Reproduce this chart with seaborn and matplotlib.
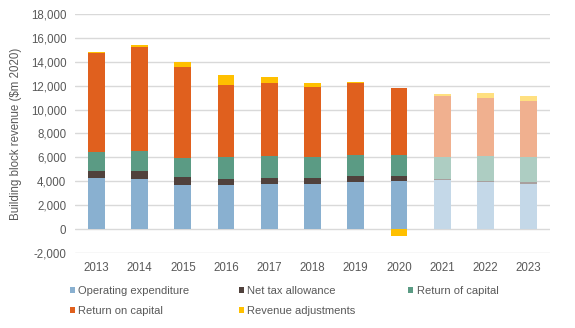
import numpy as np
import pandas as pd
import matplotlib
matplotlib.use("Agg")
import matplotlib.pyplot as plt
from matplotlib.patches import Patch
from matplotlib.ticker import FuncFormatter
import seaborn as sns

# Building block revenue by component, $m 2020
years = ["2013", "2014", "2015", "2016", "2017", "2018",
         "2019", "2020", "2021", "2022", "2023"]
forecast_years = ["2021", "2022", "2023"]

opex = [4257, 4173, 3723, 3723, 3806, 3806, 3948, 4006, 4090, 3948, 3806]
net_tax = [634, 718, 643, 501, 501, 501, 501, 443, 109, 109, 142]
return_of_capital = [1587, 1670, 1586, 1811, 1783, 1728, 1728, 1728, 1836, 2061, 2087]
return_on_capital = [8262, 8656, 7596, 6010, 6097, 5843, 6010, 5645, 5091, 4869, 4674]
revenue_adj = [60, 143, 392, 860, 501, 359, 109, -530, 139, 362, 389]

series_names = ["Operating expenditure", "Net tax allowance", "Return of capital",
                "Return on capital", "Revenue adjustments"]
series_values = [opex, net_tax, return_of_capital, return_on_capital, revenue_adj]
series_colors = ["#89B0D0", "#50413C", "#5B9B84", "#E0601E", "#FFC000"]


def lighten(hex_color, amount=0.5):
    rgb = np.array(matplotlib.colors.to_rgb(hex_color))
    return tuple(rgb + (1 - rgb) * amount)


sns.set_theme(style="white")
plt.rcParams["font.family"] = ["Liberation Sans", "DejaVu Sans"]
text_color = "#595959"

fig = plt.figure(figsize=(5.75, 3.28), dpi=100)
ax = fig.add_axes([0.130, 0.228, 0.827, 0.730])

# Build a long table with a stacking base for every segment
rows = []
pos_base = np.zeros(len(years))
for name, vals, color in zip(series_names, series_values, series_colors):
    vals = np.asarray(vals, dtype=float)
    bases = np.where(vals >= 0, pos_base, 0.0)
    for yr, v, b in zip(years, vals, bases):
        rows.append({"year": yr, "series": name, "value": v, "base": b,
                     "forecast": yr in forecast_years})
    pos_base = pos_base + np.where(vals >= 0, vals, 0.0)
df = pd.DataFrame(rows)

bar_width = 0.39
for name, color in zip(series_names, series_colors):
    for is_fc, col in [(False, color), (True, lighten(color, 0.5))]:
        sub = df[(df["series"] == name) & (df["forecast"] == is_fc)]
        sns.barplot(data=sub, x="year", y="value", order=years, color=col,
                    width=bar_width, bottom=sub["base"].to_numpy(),
                    errorbar=None, saturation=1, ax=ax, zorder=3,
                    linewidth=0)

ax.set_ylim(-2000, 18000)
ax.set_xlim(-0.5, len(years) - 0.5)
ax.set_yticks(np.arange(-2000, 18001, 2000))
ax.yaxis.set_major_formatter(FuncFormatter(lambda v, p: f"{int(v):,}"))
ax.grid(axis="y", color="#D9D9D9", linewidth=1.0, zorder=0)
ax.grid(axis="x", visible=False)
for s in ax.spines.values():
    s.set_visible(False)

ax.tick_params(axis="both", length=0, labelsize=8.3, colors=text_color)
ax.tick_params(axis="y", pad=6)
ax.tick_params(axis="x", pad=6)
ax.set_xlabel("")
ax.set_ylabel("Building block revenue (\\$m 2020)", fontsize=8.3,
              color=text_color, labelpad=6)

# Legend laid out in evenly spaced columns
handles = [Patch(facecolor=c, edgecolor="none") for c in series_colors]
columns = [([0, 3], 0.122), ([1, 4], 0.415), ([2], 0.710)]
for idx, xpos in columns:
    leg = fig.legend([handles[i] for i in idx], [series_names[i] for i in idx],
                     loc="upper left", bbox_to_anchor=(xpos, 0.128),
                     frameon=False, fontsize=8.0, handlelength=0.45,
                     handleheight=0.45, handletextpad=0.3,
                     labelspacing=0.9, borderpad=0, borderaxespad=0)
    for t in leg.get_texts():
        t.set_color(text_color)

fig.savefig("out.png", dpi=100)
